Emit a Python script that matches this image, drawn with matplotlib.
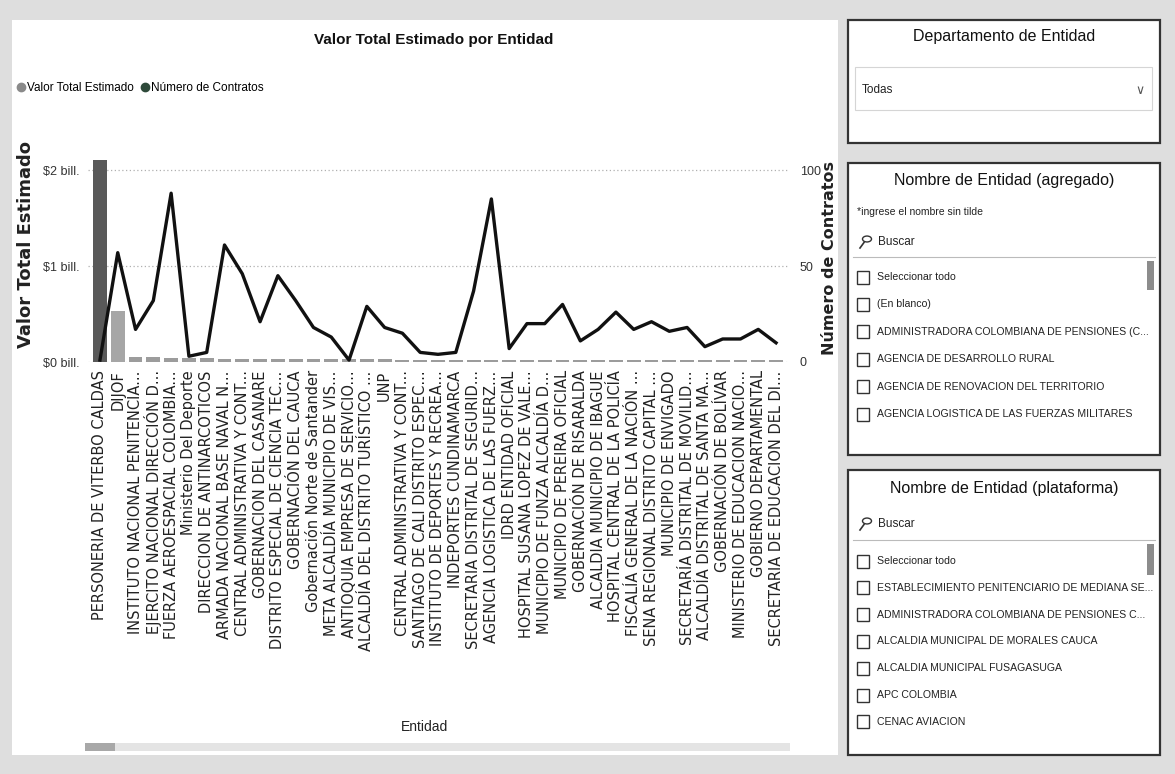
import numpy as np
import matplotlib.pyplot as plt
from matplotlib.patches import Rectangle, Circle
from matplotlib.lines import Line2D

NARROW = ['Liberation Sans Narrow', 'Liberation Sans', 'DejaVu Sans']

entidades = [
    'PERSONERIA DE VITERBO CALDAS', 'DIJOF', 'INSTITUTO NACIONAL PENITENCIA...',
    'EJERCITO NACIONAL DIRECCIÓN D...', 'FUERZA AEROESPACIAL COLOMBIA...',
    'Ministerio Del Deporte', 'DIRECCION DE ANTINARCOTICOS',
    'ARMADA NACIONAL BASE NAVAL N...', 'CENTRAL ADMINISTRATIVA Y CONT...',
    'GOBERNACION DEL CASANARE', 'DISTRITO ESPECIAL DE CIENCIA TEC...',
    'GOBERNACIÓN DEL CAUCA', 'Gobernación Norte de Santander',
    'META ALCALDÍA MUNICIPIO DE VIS...', 'ANTIOQUIA EMPRESA DE SERVICIO...',
    'ALCALDÍA DEL DISTRITO TURÍSTICO ...', 'UNP',
    'CENTRAL ADMINISTRATIVA Y CONT...', 'SANTIAGO DE CALI DISTRITO ESPEC...',
    'INSTITUTO DE DEPORTES Y RECREA...', 'INDEPORTES CUNDINAMARCA',
    'SECRETARIA DISTRITAL DE SEGURID...', 'AGENCIA LOGISTICA DE LAS FUERZ...',
    'IDRD ENTIDAD OFICIAL', 'HOSPITAL SUSANA LOPEZ DE VALE...',
    'MUNICIPIO DE FUNZA ALCALDÍA D...', 'MUNICIPIO DE PEREIRA OFICIAL',
    'GOBERNACIÓN DE RISARALDA', 'ALCALDIA MUNICIPIO DE IBAGUE',
    'HOSPITAL CENTRAL DE LA POLICÍA', 'FISCALÍA GENERAL DE LA NACIÓN ...',
    'SENA REGIONAL DISTRITO CAPITAL ...', 'MUNICIPIO DE ENVIGADO',
    'SECRETARÍA DISTRITAL DE MOVILID...', 'ALCALDÍA DISTRITAL DE SANTA MA...',
    'GOBERNACIÓN DE BOLÍVAR', 'MINISTERIO DE EDUCACION NACIO...',
    'GOBIERNO DEPARTAMENTAL', 'SECRETARIA DE EDUCACION DEL DI...',
]

# valor total estimado (billones de pesos)
valor_bill = [2.11, 0.53, 0.05, 0.05, 0.04, 0.04, 0.04, 0.03, 0.03, 0.03,
              0.03, 0.03, 0.03, 0.03, 0.03, 0.03, 0.03, 0.02, 0.02, 0.02,
              0.02, 0.02, 0.02, 0.02, 0.02, 0.02, 0.02, 0.02, 0.02, 0.02,
              0.02, 0.02, 0.02, 0.02, 0.02, 0.02, 0.02, 0.02, 0.02]

num_contratos = [1, 57, 17, 32, 88, 3, 5, 61, 46, 21, 45, 32, 18, 13, 1, 29,
                 18, 15, 5, 4, 5, 37, 85, 7, 20, 20, 30, 11, 17, 26, 17, 21,
                 16, 18, 8, 12, 12, 17, 10]

y_ticks_bill = [0, 1, 2]
y_ticklabels = ['$0 bill.', '$1 bill.', '$2 bill.']
y2_ticks = [0, 50, 100]

slicer_agregado = ['Seleccionar todo', '(En blanco)',
                   'ADMINISTRADORA COLOMBIANA DE PENSIONES (C...',
                   'AGENCIA DE DESARROLLO RURAL',
                   'AGENCIA DE RENOVACION DEL TERRITORIO',
                   'AGENCIA LOGISTICA DE LAS FUERZAS MILITARES']
slicer_plataforma = ['Seleccionar todo',
                     'ESTABLECIMIENTO PENITENCIARIO DE MEDIANA SE...',
                     'ADMINISTRADORA COLOMBIANA DE PENSIONES C...',
                     'ALCALDIA MUNICIPAL DE MORALES CAUCA',
                     'ALCALDIA MUNICIPAL FUSAGASUGA', 'APC COLOMBIA',
                     'CENAC AVIACION']

W, H = 1175, 774
fig = plt.figure(figsize=(W / 100, H / 100), dpi=100, facecolor='#dedede')


def fx(px):
    return px / W


def fy(py):
    return 1 - py / H


def panel(x0, y0, x1, y1, lw=1.6):
    fig.patches.append(Rectangle((fx(x0), fy(y1)), fx(x1 - x0), (y1 - y0) / H,
                                 transform=fig.transFigure, facecolor='white',
                                 edgecolor='#333333', lw=lw, zorder=-1))


# panel principal
fig.patches.append(Rectangle((fx(12), fy(755)), fx(826), 735 / H,
                             transform=fig.transFigure, facecolor='white',
                             edgecolor='none', zorder=-1))

ax = fig.add_axes([fx(87.5), fy(362), fx(701), 211 / H])
ax.set_facecolor('none')
x = np.arange(len(entidades))
colores = ['#595959', '#a6a6a6'] + ['#9c9c9c'] * (len(entidades) - 2)
ax.bar(x, valor_bill, width=0.78, color=colores, zorder=2)
ax.set_ylim(0, 2.2)
ax.set_xlim(-0.7, len(entidades) - 0.3)
ax.set_yticks(y_ticks_bill)
ax.set_yticklabels(y_ticklabels, family=NARROW, fontsize=9, color='#333333')
for v in [1, 2]:
    ax.axhline(v, color='#b0b0b0', lw=0.9, ls=(0, (1, 2)), zorder=1)
ax.axhline(0, color='#c8c8c8', lw=0.9, ls=(0, (1, 2)), zorder=1)
ax.set_xticks(x)
ax.set_xticklabels(entidades, rotation=90, fontsize=10.5, color='#222222',
                   va='top', ha='center')
ax.tick_params(length=0, pad=6)
for s in ax.spines.values():
    s.set_visible(False)

ax2 = ax.twinx()
ax2.plot(x, num_contratos, color='#111111', lw=2.4, zorder=3)
ax2.set_ylim(0, 110)
ax2.set_yticks(y2_ticks)
ax2.set_yticklabels([str(t) for t in y2_ticks], family=NARROW, fontsize=9,
                    color='#333333')
ax2.tick_params(length=0, pad=8)
for s in ax2.spines.values():
    s.set_visible(False)

fig.text(fx(434), fy(40), 'Valor Total Estimado por Entidad', family=NARROW,
         fontsize=11, fontweight='bold', ha='center', va='center', color='#111111')
fig.text(fx(26), fy(245), 'Valor Total Estimado', rotation=90, fontsize=13,
         fontweight='bold', ha='center', va='center', color='#222222')
fig.text(fx(829), fy(258), 'Número de Contratos', rotation=90, fontsize=11.5,
         fontweight='bold', ha='center', va='center', color='#222222')
fig.text(fx(425), fy(727), 'Entidad', family=NARROW, fontsize=10,
         ha='center', va='center', color='#222222')

handles = [Line2D([], [], marker='o', ls='', color='#8a8a8a', markersize=6),
           Line2D([], [], marker='o', ls='', color='#2e4a3a', markersize=6)]
fig.legend(handles, ['Valor Total Estimado', 'Número de Contratos'],
           loc='center left', bbox_to_anchor=(fx(16), fy(88)), ncol=2,
           frameon=False, prop={'family': NARROW, 'size': 8.5},
           handletextpad=0.1, columnspacing=0.6, handlelength=0.8,
           borderaxespad=0, borderpad=0)

# barra de desplazamiento
fig.patches.append(Rectangle((fx(85), fy(751)), fx(705), 8 / H,
                             transform=fig.transFigure, facecolor='#e4e4e4',
                             edgecolor='none'))
fig.patches.append(Rectangle((fx(85), fy(751)), fx(30), 8 / H,
                             transform=fig.transFigure, facecolor='#a8a8a8',
                             edgecolor='none'))


def checkbox(px, py):
    fig.patches.append(Rectangle((fx(px), fy(py + 6.5)), fx(12), 13 / H,
                                 transform=fig.transFigure, facecolor='white',
                                 edgecolor='#333333', lw=1.0))


def lupa(px, py):
    fig.patches.append(Circle((fx(px + 3), fy(py - 3)), fx(4.5),
                              transform=fig.transFigure, facecolor='none',
                              edgecolor='#333333', lw=1.0))
    fig.lines.append(Line2D([fx(px - 4), fx(px)], [fy(py + 6), fy(py + 0.5)],
                            transform=fig.transFigure, color='#333333', lw=1.2))


def lista(items, y0, step, thumb):
    for i, it in enumerate(items):
        yy = y0 + i * step
        checkbox(857, yy)
        fig.text(fx(877), fy(yy), it, family=NARROW, fontsize=7.6,
                 va='center', ha='left', color='#222222')
    fig.patches.append(Rectangle((fx(1147), fy(thumb[1])), fx(7),
                                 (thumb[1] - thumb[0]) / H,
                                 transform=fig.transFigure,
                                 facecolor='#8c8c8c', edgecolor='none'))


# slicer 1
panel(848, 20, 1160, 143)
fig.text(fx(1004), fy(37), 'Departamento de Entidad', family=NARROW,
         fontsize=11.5, ha='center', va='center', color='#111111')
fig.patches.append(Rectangle((fx(855), fy(110)), fx(297), 43 / H,
                             transform=fig.transFigure, facecolor='white',
                             edgecolor='#d5d5d5', lw=0.8))
fig.text(fx(862), fy(90), 'Todas', family=NARROW, fontsize=8.5, va='center',
         color='#222222')
fig.text(fx(1140), fy(90), '∨', fontsize=9, va='center', ha='center',
         color='#555555')

# slicer 2
panel(848, 163, 1160, 455)
fig.text(fx(1004), fy(180), 'Nombre de Entidad (agregado)', family=NARROW,
         fontsize=11.5, ha='center', va='center', color='#111111')
fig.text(fx(857), fy(212), '*ingrese el nombre sin tilde', family=NARROW,
         fontsize=7.5, va='center', color='#222222')
lupa(864, 242)
fig.text(fx(878), fy(242), 'Buscar', family=NARROW, fontsize=8.5, va='center',
         color='#222222')
fig.lines.append(Line2D([fx(853), fx(1155)], [fy(257), fy(257)],
                        transform=fig.transFigure, color='#bbbbbb', lw=0.8))
lista(slicer_agregado, 277, 27.4, (261, 290))

# slicer 3
panel(848, 470, 1160, 755)
fig.text(fx(1004), fy(488), 'Nombre de Entidad (plataforma)', family=NARROW,
         fontsize=11.5, ha='center', va='center', color='#111111')
lupa(864, 524)
fig.text(fx(878), fy(524), 'Buscar', family=NARROW, fontsize=8.5, va='center',
         color='#222222')
fig.lines.append(Line2D([fx(853), fx(1155)], [fy(540), fy(540)],
                        transform=fig.transFigure, color='#bbbbbb', lw=0.8))
lista(slicer_plataforma, 561, 26.8, (544, 575))

fig.savefig('out.png', dpi=100, facecolor=fig.get_facecolor())
